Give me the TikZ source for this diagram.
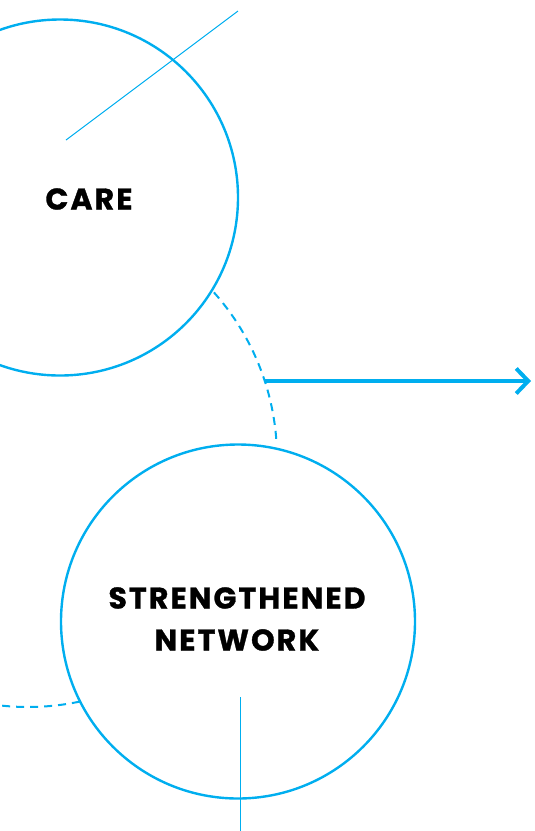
\documentclass[tikz,border=0pt]{standalone}
\usepackage{fontspec}
\setmainfont{Poppins}
\newfontfamily\lblfont{Poppins}[LetterSpace=7, BoldFeatures={FakeBold=1}]
\usetikzlibrary{arrows.meta}
\definecolor{cy}{RGB}{0,174,239}
\begin{document}
\begin{tikzpicture}[x=1pt,y=-1pt,
  ring/.style={draw=cy, line width=2.4pt, circle, inner sep=0pt},
  lbl/.style={font=\lblfont\bfseries\fontsize{30}{42}\selectfont, text=black, align=center, inner sep=0pt},
  thinline/.style={draw=cy, line width=1pt},
  dashline/.style={draw=cy, line width=2pt, dash pattern=on 8pt off 6pt},
  arrowline/.style={draw=cy, line width=4pt, -{Straight Barb[length=12pt,width=25pt]}}]
\useasboundingbox (0,0) rectangle (535,831);
\clip (0,0) rectangle (535,831);
\node[ring, minimum size=356pt] (care) at (60,197.5) {};
\node[lbl] (caretext) at (89,199) {CARE};
\node[ring, minimum size=354pt] (net) at (238,621.5) {};
\node[lbl] (nettext) at (237,619) {STRENGTHENED\\NETWORK};
\coordinate (l1a) at (66,140);
\coordinate (l1b) at (238,11);
\draw[thinline] (l1a) -- (l1b);
\coordinate (l2a) at (240,697);
\coordinate (l2b) at (240,832);
\draw[thinline] (l2a) -- (l2b);
\coordinate (dc) at (28,458);
\draw[dashline] ([shift={(-41.7:249)}]dc) arc[start angle=-41.7, end angle=-3.5, radius=249];
\draw[dashline] ([shift={(78:249)}]dc) arc[start angle=78, end angle=102, radius=249];
\coordinate (as) at (264.8,381);
\coordinate (ae) at (531,381);
\draw[arrowline] (as) -- (ae);
\end{tikzpicture}
\end{document}
